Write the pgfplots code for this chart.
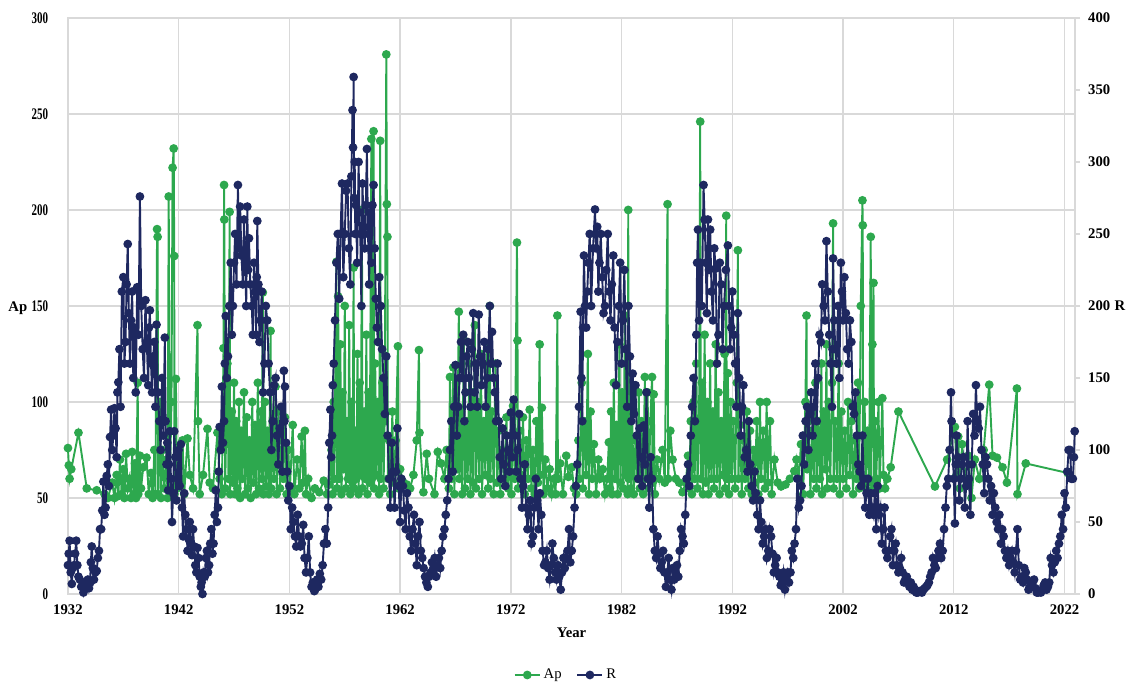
\documentclass[border=0pt]{standalone}
\usepackage{fontspec}
\setmainfont{Liberation Serif}
\usepackage{graphicx}
\usepackage{pgfplots}
\pgfplotsset{compat=1.18}
\definecolor{apgreen}{RGB}{45,168,78}
\definecolor{rnavy}{RGB}{30,40,96}
\definecolor{gridgray}{RGB}{217,217,217}
\newcommand{\chartfont}{\fontsize{10}{12}\selectfont}
\pgfplotsset{
  chartbase/.style={
    scale only axis, width=684.8pt, height=391.7pt,
    xmin=1932, xmax=2022.95, ymin=0, clip=false,
    /pgf/number format/1000 sep={},
    /pgf/number format/assume math mode=true,
    tick label style={font=\chartfont\bfseries},
  },
  apline/.style={apgreen, line width=1.3pt, mark=*, mark size=2.3pt, mark options={solid}},
  rline/.style={rnavy, line width=1.3pt, mark=*, mark size=2.3pt, mark options={solid}},
}
\begin{document}
\begin{tikzpicture}
\useasboundingbox (-46.2pt,-59.8pt) rectangle (721.5pt,403.9pt);
% left axis: Ap
\begin{axis}[chartbase,
  ymax=300, ytick={0,50,...,300},
  xtick={1932,1942,...,2022},
  grid=major, grid style={draw=gridgray, line width=0.9pt},
  axis line style={draw=gridgray, line width=0.9pt},
  xtick style={draw=none}, ytick style={draw=none},
  yticklabel={\scalebox{0.68}[1]{\fontsize{11}{12}\selectfont\bfseries\pgfmathprintnumber{\tick}}},
  yticklabel style={xshift=-10pt},
  xticklabel style={yshift=-4pt},
  xlabel={Year}, ylabel={Ap},
  every axis x label/.style={at={(axis description cs:0.5,-0.0677)}, anchor=center, font=\chartfont\bfseries},
  every axis y label/.style={at={(axis description cs:-0.0497,0.4965)}, anchor=center, font=\chartfont\bfseries},
]
\addplot[apline] table {
1932.00 76
1932.08 67
1932.15 60
1932.30 65
1932.95 84
1933.70 55
1934.60 54
1935.30 52
1935.60 50
1936.00 58
1936.20 50
1936.40 62
1936.55 51
1936.70 70
1936.85 52
1937.00 65
1937.10 50
1937.25 73
1937.40 55
1937.55 60
1937.70 50
1937.80 74
1937.95 52
1938.05 68
1938.15 50
1938.30 110
1938.35 52
1938.50 72
1938.60 55
1938.80 66
1939.10 71
1939.30 52
1939.50 63
1939.65 50
1939.80 75
1939.90 52
1940.05 190
1940.10 186
1940.15 52
1940.30 100
1940.40 50
1940.55 75
1940.70 55
1940.90 70
1941.00 50
1941.10 207
1941.20 55
1941.35 100
1941.45 222
1941.55 232
1941.60 176
1941.62 52
1941.75 112
1941.85 55
1942.00 70
1942.20 60
1942.35 80
1942.50 52
1942.80 81
1943.00 62
1943.30 55
1943.70 140
1943.75 90
1943.90 52
1944.20 62
1944.60 86
1944.80 58
1945.10 55
1945.50 84
1945.70 60
1945.90 52
1946.05 128
1946.10 213
1946.12 195
1946.20 55
1946.40 120
1946.50 60
1946.60 199
1946.65 52
1946.80 95
1946.90 58
1947.00 110
1947.10 52
1947.20 90
1947.30 55
1947.45 100
1947.55 50
1947.65 85
1947.75 60
1947.90 105
1948.00 52
1948.15 92
1948.25 55
1948.40 80
1948.50 50
1948.65 100
1948.75 58
1948.90 88
1949.00 52
1949.15 110
1949.25 55
1949.40 95
1949.50 60
1949.60 157
1949.65 52
1949.80 100
1949.90 56
1950.00 85
1950.15 52
1950.30 137
1950.35 55
1950.50 90
1950.60 60
1950.75 108
1950.85 52
1951.00 95
1951.15 55
1951.30 80
1951.45 60
1951.60 92
1951.75 52
1951.90 75
1952.05 55
1952.30 88
1952.45 52
1952.70 70
1952.90 55
1953.10 82
1953.25 58
1953.40 85
1953.50 52
1953.70 60
1954.00 50
1954.30 55
1954.70 53
1955.10 59
1955.40 52
1955.60 57
1955.80 75
1955.90 52
1956.00 100
1956.05 60
1956.15 120
1956.25 173
1956.30 55
1956.40 155
1956.50 60
1956.60 130
1956.70 52
1956.80 105
1956.90 65
1957.00 150
1957.10 55
1957.20 90
1957.30 60
1957.40 140
1957.50 52
1957.60 100
1957.70 58
1957.80 170
1957.85 55
1957.95 85
1958.05 60
1958.15 125
1958.25 52
1958.35 110
1958.45 62
1958.55 200
1958.60 55
1958.75 95
1958.85 60
1958.95 135
1959.05 52
1959.15 105
1959.25 58
1959.40 237
1959.45 60
1959.60 241
1959.65 55
1959.75 120
1959.85 62
1960.00 100
1960.10 52
1960.20 236
1960.25 60
1960.40 110
1960.50 55
1960.60 90
1960.75 281
1960.80 203
1960.85 186
1960.90 60
1961.00 80
1961.10 52
1961.30 95
1961.40 58
1961.60 80
1961.80 129
1961.85 55
1962.00 65
1962.30 58
1962.60 57
1962.90 55
1963.20 62
1963.50 80
1963.70 127
1963.75 84
1964.10 53
1964.40 73
1964.60 60
1965.10 52
1965.40 74
1965.70 68
1966.00 60
1966.20 75
1966.40 55
1966.50 113
1966.65 60
1966.80 118
1966.90 52
1967.05 110
1967.15 65
1967.30 147
1967.35 60
1967.50 95
1967.60 52
1967.75 132
1967.85 55
1968.00 90
1968.10 60
1968.25 120
1968.35 52
1968.50 105
1968.60 58
1968.75 140
1968.85 55
1969.00 100
1969.15 60
1969.30 125
1969.40 52
1969.55 90
1969.70 62
1969.85 130
1969.95 55
1970.10 150
1970.15 60
1970.30 95
1970.45 52
1970.60 120
1970.75 58
1970.90 85
1971.05 52
1971.20 75
1971.40 60
1971.60 92
1971.75 55
1971.90 70
1972.05 52
1972.20 98
1972.35 60
1972.55 183
1972.60 132
1972.65 55
1972.80 85
1972.95 62
1973.10 92
1973.25 52
1973.40 80
1973.55 60
1973.70 96
1973.85 55
1974.00 75
1974.15 52
1974.30 90
1974.45 58
1974.60 130
1974.65 62
1974.80 97
1974.95 52
1975.10 70
1975.30 55
1975.50 65
1975.70 52
1975.90 60
1976.05 52
1976.20 145
1976.25 60
1976.45 68
1976.70 52
1977.00 72
1977.20 61
1977.50 66
1977.70 55
1977.90 52
1978.10 80
1978.20 60
1978.40 110
1978.50 55
1978.65 90
1978.80 62
1978.95 125
1979.05 52
1979.20 95
1979.35 60
1979.50 78
1979.70 52
1979.90 70
1980.05 60
1980.30 65
1980.50 52
1980.70 60
1980.85 79
1980.95 55
1981.05 95
1981.15 52
1981.30 110
1981.40 60
1981.55 88
1981.65 52
1981.80 130
1981.90 58
1982.05 105
1982.15 55
1982.30 145
1982.35 62
1982.45 120
1982.55 52
1982.60 200
1982.65 60
1982.75 110
1982.85 55
1982.95 95
1983.10 52
1983.25 80
1983.40 60
1983.55 105
1983.65 55
1983.80 90
1983.95 52
1984.10 113
1984.20 60
1984.35 105
1984.45 55
1984.60 90
1984.75 113
1984.80 58
1984.90 104
1985.00 52
1985.20 70
1985.40 60
1985.70 75
1985.90 58
1986.15 203
1986.20 60
1986.40 85
1986.60 70
1986.90 60
1987.20 58
1987.50 53
1987.80 58
1988.00 72
1988.10 55
1988.25 90
1988.35 52
1988.50 100
1988.60 60
1988.75 120
1988.85 55
1989.00 90
1989.10 246
1989.15 60
1989.25 110
1989.35 52
1989.50 135
1989.60 58
1989.75 100
1989.85 52
1990.00 120
1990.10 60
1990.25 95
1990.35 55
1990.50 130
1990.60 60
1990.75 105
1990.85 52
1991.00 90
1991.15 62
1991.30 125
1991.35 55
1991.45 197
1991.50 60
1991.60 115
1991.70 52
1991.85 100
1991.95 60
1992.10 90
1992.25 55
1992.40 110
1992.50 179
1992.55 60
1992.70 88
1992.85 52
1993.00 80
1993.15 60
1993.30 95
1993.45 55
1993.60 85
1993.75 52
1993.90 75
1994.05 58
1994.20 90
1994.35 52
1994.50 100
1994.60 60
1994.80 85
1994.95 55
1995.10 100
1995.20 58
1995.40 90
1995.55 52
1995.80 70
1996.10 58
1996.40 56
1996.80 57
1997.20 60
1997.60 64
1997.80 70
1998.00 60
1998.20 78
1998.40 52
1998.60 100
1998.70 145
1998.75 65
1998.90 90
1999.05 52
1999.20 85
1999.35 60
1999.50 110
1999.60 55
1999.75 90
1999.90 60
2000.05 120
2000.10 52
2000.25 95
2000.40 65
2000.50 130
2000.55 55
2000.70 100
2000.85 60
2001.00 110
2001.10 193
2001.15 55
2001.30 90
2001.45 60
2001.60 120
2001.70 52
2001.85 95
2002.00 60
2002.15 85
2002.30 55
2002.45 100
2002.60 62
2002.75 90
2002.90 52
2003.05 80
2003.20 60
2003.35 110
2003.45 55
2003.60 150
2003.75 205
2003.78 192
2003.80 60
2003.95 100
2004.05 55
2004.20 85
2004.35 60
2004.50 186
2004.55 58
2004.65 130
2004.75 162
2004.80 55
2004.90 90
2005.00 60
2005.20 100
2005.30 55
2005.55 102
2005.65 62
2005.80 55
2006.00 60
2006.30 66
2007.00 95
2010.30 56
2011.40 70
2012.10 87
2012.25 62
2012.40 82
2012.55 55
2012.75 78
2013.00 60
2013.30 72
2013.60 50
2013.90 70
2014.30 60
2014.70 75
2015.20 109
2015.50 72
2015.90 71
2016.40 66
2016.80 58
2017.70 107
2017.75 52
2018.50 68
2022.30 63
};
\end{axis}
% right axis: R
\begin{axis}[chartbase,
  ymax=400, ytick={0,50,...,400},
  axis x line=none, axis y line*=right,
  y axis line style={draw=gridgray, line width=0.9pt},
  ytick style={draw=gridgray, line width=0.9pt},
  tick align=outside, major tick length=3.4pt,
  yticklabel style={xshift=2pt},
  ylabel={R},
  every axis y label/.style={at={(axis description cs:1.0447,0.5)}, anchor=center, font=\chartfont\bfseries},
  legend style={at={(0.495,-0.1406)}, anchor=center, legend columns=2, draw=none, fill=none,
    font=\chartfont, /tikz/every even column/.append style={column sep=8pt}},
  legend cell align=left,
]
\addlegendimage{apline}
\addlegendentry{Ap}
\addplot[rline] table {
1932.00 20
1932.07 28
1932.15 37
1932.25 15
1932.35 7
1932.45 18
1932.55 20
1932.65 28
1932.75 37
1932.85 20
1932.95 12
1933.07 10
1933.20 5
1933.30 6
1933.40 1
1933.50 5
1933.60 4
1933.70 9
1933.80 10
1933.90 4
1934.00 8
1934.07 22
1934.15 33
1934.25 18
1934.35 10
1934.47 15
1934.60 16
1934.70 25
1934.80 30
1934.90 45
1935.00 45
1935.10 58
1935.20 78
1935.30 55
1935.40 60
1935.50 82
1935.60 90
1935.70 75
1935.80 109
1935.90 128
1936.00 100
1936.10 110
1936.20 129
1936.30 115
1936.40 95
1936.47 140
1936.55 147
1936.65 170
1936.75 130
1936.87 210
1937.00 220
1937.10 160
1937.20 175
1937.30 215
1937.40 243
1937.50 195
1937.60 160
1937.70 190
1937.80 210
1937.90 150
1938.00 185
1938.12 140
1938.25 213
1938.37 180
1938.50 276
1938.62 200
1938.75 170
1938.87 150
1939.00 204
1939.12 175
1939.25 145
1939.32 185
1939.40 197
1939.50 160
1939.60 140
1939.70 165
1939.80 175
1939.90 130
1940.00 187
1940.12 140
1940.25 120
1940.37 100
1940.50 150
1940.62 110
1940.75 178
1940.82 120
1940.90 90
1940.97 105
1941.05 72
1941.12 90
1941.20 113
1941.30 80
1941.40 50
1941.50 70
1941.60 113
1941.70 95
1941.80 65
1941.90 80
1942.00 100
1942.10 75
1942.20 104
1942.30 60
1942.40 40
1942.50 70
1942.60 55
1942.70 45
1942.80 30
1942.90 38
1943.00 50
1943.10 35
1943.20 27
1943.30 45
1943.40 33
1943.50 20
1943.60 15
1943.70 32
1943.80 25
1943.90 12
1944.00 5
1944.07 8
1944.15 0
1944.25 15
1944.35 12
1944.45 25
1944.55 30
1944.65 15
1944.75 20
1944.85 35
1944.95 45
1945.05 28
1945.15 35
1945.25 55
1945.35 72
1945.45 50
1945.55 60
1945.62 85
1945.70 116
1945.80 100
1945.90 144
1946.00 105
1946.10 120
1946.17 160
1946.25 193
1946.35 150
1946.45 165
1946.57 200
1946.70 230
1946.80 180
1946.90 200
1947.00 230
1947.10 250
1947.22 215
1947.35 284
1947.45 240
1947.55 269
1947.67 235
1947.80 215
1947.90 260
1948.00 230
1948.10 200
1948.20 269
1948.27 225
1948.35 247
1948.47 215
1948.60 200
1948.70 180
1948.80 230
1948.90 210
1949.00 180
1949.05 220
1949.10 259
1949.20 215
1949.30 175
1949.40 190
1949.50 210
1949.62 140
1949.75 160
1949.87 200
1950.00 190
1950.12 160
1950.25 140
1950.37 100
1950.50 120
1950.62 145
1950.75 150
1950.87 110
1951.00 90
1951.12 115
1951.25 130
1951.37 85
1951.50 155
1951.55 120
1951.60 144
1951.70 105
1951.80 85
1951.90 65
1952.00 75
1952.12 45
1952.25 60
1952.37 50
1952.50 40
1952.62 33
1952.75 55
1952.87 40
1953.00 33
1953.12 35
1953.25 48
1953.37 25
1953.50 15
1953.62 25
1953.75 40
1953.87 15
1954.00 5
1954.12 8
1954.25 2
1954.37 4
1954.50 10
1954.62 5
1954.75 14
1954.87 10
1955.00 20
1955.12 35
1955.25 45
1955.37 35
1955.50 60
1955.60 105
1955.70 128
1955.77 95
1955.85 110
1955.92 145
1956.00 160
1956.12 190
1956.25 230
1956.37 250
1956.50 205
1956.62 250
1956.75 285
1956.87 220
1957.00 250
1957.12 280
1957.25 285
1957.37 240
1957.50 215
1957.60 290
1957.70 336
1957.75 310
1957.80 359
1957.85 275
1957.90 300
1957.95 250
1958.00 270
1958.12 230
1958.25 300
1958.32 265
1958.40 250
1958.50 200
1958.60 285
1958.70 255
1958.80 240
1958.90 270
1959.00 309
1959.10 250
1959.20 215
1959.30 265
1959.40 230
1959.50 270
1959.60 284
1959.70 240
1959.80 205
1959.90 185
1960.00 175
1960.12 220
1960.25 200
1960.37 170
1960.50 150
1960.62 125
1960.75 165
1960.87 110
1961.00 80
1961.12 60
1961.25 105
1961.37 85
1961.50 60
1961.62 85
1961.75 115
1961.87 75
1962.00 50
1962.12 80
1962.25 75
1962.37 58
1962.50 45
1962.62 70
1962.75 60
1962.87 40
1963.00 30
1963.12 45
1963.25 55
1963.37 35
1963.50 20
1963.62 40
1963.75 50
1963.87 30
1964.00 25
1964.12 18
1964.25 12
1964.37 8
1964.50 5
1964.62 12
1964.75 15
1964.87 22
1965.00 18
1965.12 25
1965.25 12
1965.37 20
1965.50 25
1965.62 18
1965.75 30
1965.87 40
1966.00 45
1966.12 55
1966.25 65
1966.37 80
1966.50 100
1966.62 120
1966.75 85
1966.87 130
1967.00 159
1967.12 110
1967.25 130
1967.37 150
1967.50 175
1967.60 150
1967.70 180
1967.80 120
1967.90 140
1968.00 165
1968.10 175
1968.22 150
1968.35 130
1968.47 170
1968.60 195
1968.72 140
1968.85 160
1968.97 130
1969.10 194
1969.22 165
1969.35 145
1969.47 160
1969.60 175
1969.72 130
1969.85 150
1969.97 170
1970.10 200
1970.20 160
1970.30 182
1970.42 150
1970.55 140
1970.67 120
1970.80 160
1970.90 120
1971.00 95
1971.12 80
1971.25 115
1971.37 90
1971.50 75
1971.62 110
1971.75 100
1971.87 85
1972.00 126
1972.12 95
1972.25 135
1972.37 110
1972.50 85
1972.62 100
1972.75 125
1972.87 80
1973.00 60
1973.12 75
1973.25 90
1973.37 60
1973.50 45
1973.62 55
1973.75 65
1973.87 35
1974.00 40
1974.12 60
1974.25 80
1974.37 65
1974.50 45
1974.62 70
1974.75 55
1974.87 30
1975.00 20
1975.12 22
1975.25 30
1975.37 18
1975.50 10
1975.62 20
1975.75 35
1975.87 25
1976.00 15
1976.12 10
1976.25 20
1976.37 12
1976.50 3
1976.62 15
1976.75 25
1976.87 18
1977.00 25
1977.12 30
1977.25 45
1977.37 22
1977.50 30
1977.62 40
1977.75 60
1977.87 75
1978.00 90
1978.15 130
1978.30 196
1978.37 150
1978.45 120
1978.52 185
1978.60 235
1978.70 200
1978.80 185
1978.90 210
1979.00 230
1979.12 250
1979.25 200
1979.42 240
1979.60 267
1979.70 240
1979.80 255
1979.90 210
1980.00 230
1980.12 250
1980.25 220
1980.37 195
1980.50 200
1980.62 225
1980.75 250
1980.87 210
1981.00 190
1981.12 215
1981.25 235
1981.37 185
1981.50 145
1981.62 175
1981.75 200
1981.87 230
1982.00 160
1982.12 190
1982.25 225
1982.37 170
1982.50 130
1982.62 200
1982.75 165
1982.87 120
1983.00 153
1983.12 125
1983.25 145
1983.37 110
1983.50 80
1983.62 115
1983.75 95
1983.87 75
1984.00 117
1984.12 90
1984.25 140
1984.37 80
1984.50 60
1984.62 95
1984.75 80
1984.87 45
1985.00 30
1985.12 25
1985.25 40
1985.37 28
1985.50 18
1985.62 22
1985.75 30
1985.87 15
1986.00 5
1986.12 15
1986.25 25
1986.37 10
1986.50 3
1986.62 18
1986.75 10
1986.87 15
1987.00 20
1987.12 12
1987.25 30
1987.37 45
1987.50 40
1987.62 35
1987.75 55
1987.87 80
1988.00 90
1988.12 75
1988.25 110
1988.37 130
1988.50 150
1988.62 120
1988.75 180
1988.82 230
1988.90 253
1989.00 190
1989.10 230
1989.25 200
1989.40 284
1989.50 260
1989.60 230
1989.70 195
1989.80 260
1989.90 225
1990.00 253
1990.12 210
1990.25 190
1990.37 240
1990.50 226
1990.62 160
1990.75 180
1990.87 230
1991.00 215
1991.12 170
1991.25 200
1991.42 225
1991.60 242
1991.70 200
1991.80 170
1991.90 185
1992.00 210
1992.12 180
1992.25 160
1992.37 130
1992.50 195
1992.62 150
1992.75 110
1992.87 130
1993.00 145
1993.12 95
1993.25 100
1993.37 85
1993.50 120
1993.62 90
1993.75 75
1993.87 65
1994.00 85
1994.12 70
1994.25 55
1994.37 45
1994.50 65
1994.62 50
1994.75 35
1994.87 40
1995.00 45
1995.12 25
1995.25 30
1995.37 45
1995.50 40
1995.62 28
1995.75 15
1995.87 20
1996.00 25
1996.12 15
1996.25 12
1996.37 6
1996.50 8
1996.62 15
1996.75 3
1996.87 10
1997.00 15
1997.12 8
1997.25 15
1997.37 30
1997.50 25
1997.62 35
1997.75 45
1997.87 80
1998.00 60
1998.12 65
1998.25 75
1998.37 110
1998.50 90
1998.62 120
1998.75 130
1998.87 100
1999.00 125
1999.12 140
1999.25 110
1999.37 130
1999.50 160
1999.62 120
1999.75 150
1999.87 180
2000.00 175
2000.12 215
2000.25 200
2000.37 190
2000.50 245
2000.62 210
2000.75 180
2000.87 160
2001.00 130
2001.05 170
2001.10 233
2001.20 190
2001.30 170
2001.42 160
2001.55 200
2001.67 150
2001.80 230
2001.90 210
2002.00 190
2002.12 220
2002.25 195
2002.37 170
2002.50 160
2002.62 190
2002.75 175
2002.87 130
2003.00 125
2003.12 140
2003.25 110
2003.37 90
2003.50 85
2003.62 75
2003.75 110
2003.87 80
2004.00 60
2004.12 70
2004.25 80
2004.37 55
2004.50 70
2004.62 60
2004.75 55
2004.87 70
2005.00 45
2005.12 75
2005.25 55
2005.37 60
2005.50 35
2005.62 45
2005.75 60
2005.87 30
2006.00 25
2006.12 30
2006.25 40
2006.37 45
2006.50 20
2006.62 30
2006.75 35
2006.87 20
2007.00 15
2007.12 18
2007.25 25
2007.37 15
2007.50 8
2007.62 10
2007.75 12
2007.87 8
2008.00 5
2008.12 8
2008.25 3
2008.37 5
2008.50 2
2008.62 1
2008.75 1
2008.87 2
2009.00 2
2009.12 1
2009.25 3
2009.37 4
2009.50 5
2009.62 6
2009.75 8
2009.87 12
2010.00 15
2010.12 25
2010.25 20
2010.37 18
2010.50 25
2010.62 30
2010.75 35
2010.87 25
2011.00 30
2011.12 45
2011.25 60
2011.37 75
2011.50 80
2011.62 100
2011.75 140
2011.80 120
2012.00 80
2012.10 49
2012.18 90
2012.25 110
2012.37 95
2012.50 65
2012.62 80
2012.75 90
2012.87 95
2013.00 60
2013.12 75
2013.25 120
2013.37 80
2013.50 55
2013.62 90
2013.75 125
2013.87 110
2014.00 145
2014.12 120
2014.25 115
2014.37 130
2014.50 100
2014.62 90
2014.75 70
2014.87 95
2015.00 90
2015.12 80
2015.25 65
2015.37 75
2015.50 55
2015.62 70
2015.75 60
2015.87 50
2016.00 45
2016.12 55
2016.25 35
2016.37 45
2016.50 40
2016.62 30
2016.75 25
2016.87 30
2017.00 20
2017.12 25
2017.25 30
2017.37 22
2017.50 15
2017.62 30
2017.75 45
2017.87 20
2018.00 10
2018.12 12
2018.25 8
2018.37 18
2018.50 15
2018.62 10
2018.75 3
2018.87 5
2019.00 5
2019.12 8
2019.25 10
2019.37 4
2019.50 1
2019.62 1
2019.75 2
2019.87 1
2020.00 3
2020.12 6
2020.25 8
2020.37 3
2020.50 5
2020.62 8
2020.75 25
2020.87 20
2021.00 15
2021.12 22
2021.25 30
2021.37 25
2021.50 35
2021.62 40
2021.75 55
2021.87 45
2022.00 70
2022.12 60
2022.25 85
2022.37 100
2022.50 100
2022.62 80
2022.75 80
2022.85 95
2022.92 113
};
\addlegendentry{R}
\end{axis}
\end{tikzpicture}
\end{document}
